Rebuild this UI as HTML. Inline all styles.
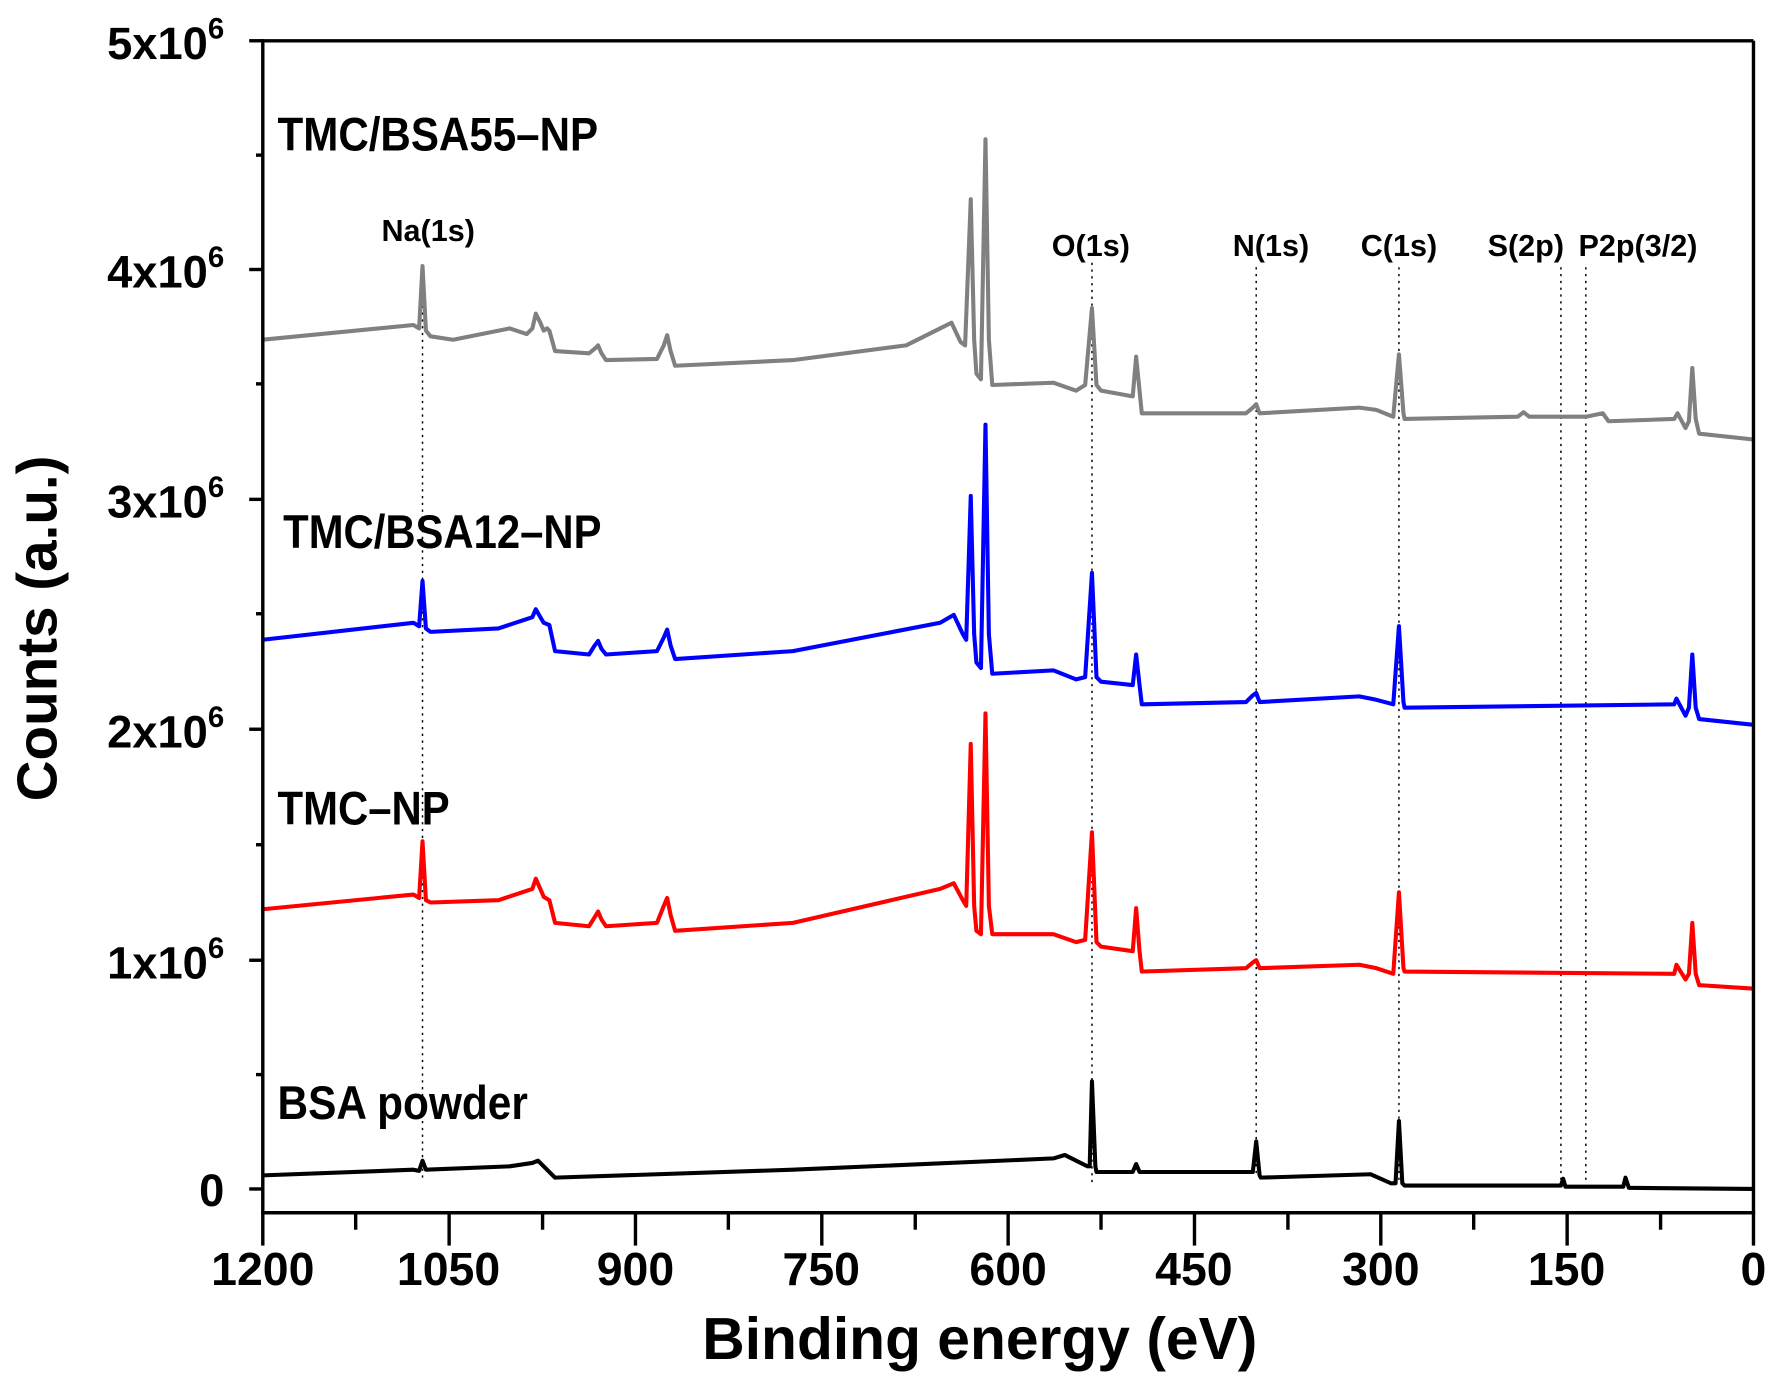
<!DOCTYPE html>
<html><head><meta charset="utf-8"><style>
html,body{margin:0;padding:0;background:#fff;}
svg{display:block}
text{font-family:"Liberation Sans",Arial,sans-serif;font-weight:bold;}
</style></head><body>
<svg width="1775" height="1386" viewBox="0 0 1567 1224" preserveAspectRatio="none" xmlns="http://www.w3.org/2000/svg">
<g stroke="#000" stroke-width="1.3" stroke-dasharray="2,4" fill="none">
<line x1="373" y1="240" x2="373" y2="1040"/>
<line x1="964" y1="232" x2="964" y2="1045"/>
<line x1="1109" y1="236" x2="1109" y2="1040"/>
<line x1="1235" y1="236" x2="1235" y2="1045"/>
<line x1="1378" y1="236" x2="1378" y2="1042"/>
<line x1="1400" y1="236" x2="1400" y2="1042"/>
</g>
<g fill="none" stroke-width="3.6" stroke-linejoin="round">
<polyline stroke="#808080" points="232,300 365,287 370,290 373,235 376,292 380,297 400,300 450,290 465,295 470,290 473,277 477,285 480,292 483,290 485,292 490,310 520,312 525,308 528,305 531,312 535,318 580,317 586,305 589,296 592,310 596,323 700,318 800,305 830,290 840,285 848,302 852,305 857,176 860,300 862,330 866,335 870,123 873,300 876,340 930,338 950,345 958,340 964,272 968,340 972,345 1000,350 1003,315 1006,345 1008,365 1100,365 1106,360 1109,357 1112,365 1200,360 1215,362 1230,368 1235,313 1239,365 1240,370 1340,368 1345,364 1350,368 1400,368 1415,365 1420,372 1478,370 1481,365 1488,378 1491,372 1494,325 1497,370 1500,383 1547,388"/>
<polyline stroke="#0000ff" points="232,565 365,550 370,553 373,513 376,555 380,558 440,555 470,545 473,538 477,545 480,550 485,552 490,575 520,578 525,570 528,566 531,573 535,578 580,575 586,563 589,556 592,570 596,582 700,575 830,550 842,543 850,560 853,565 857,438 860,560 862,585 866,590 870,375 873,560 876,595 930,592 950,600 958,598 964,506 968,598 972,602 1000,605 1003,578 1006,605 1008,622 1100,620 1106,614 1109,612 1112,620 1200,615 1215,618 1230,622 1235,553 1239,620 1240,625 1478,622 1480,617 1488,632 1491,625 1494,578 1497,625 1500,635 1547,640"/>
<polyline stroke="#ff0000" points="232,803 365,790 370,793 373,743 376,795 380,797 440,795 470,785 473,776 477,785 480,792 485,795 490,815 520,818 525,810 528,805 531,812 535,818 580,815 586,800 589,793 592,808 596,822 700,815 830,785 842,780 850,795 853,800 857,657 860,800 862,822 866,825 870,630 873,800 876,825 930,825 950,832 958,830 964,735 968,832 972,836 1000,840 1003,802 1006,840 1008,858 1100,855 1106,850 1109,848 1112,855 1200,852 1215,855 1230,860 1235,788 1239,855 1240,858 1478,860 1480,852 1488,865 1491,860 1494,815 1497,860 1500,870 1547,873"/>
<polyline stroke="#000" points="232,1038 365,1033 370,1034 373,1025 376,1033 450,1030 470,1027 475,1025 490,1040 700,1033 930,1023 940,1020 960,1030 962,1030 964,955 967,1030 968,1035 1000,1035 1003,1028 1006,1035 1100,1035 1106,1035 1109,1008 1112,1038 1113,1040 1210,1037 1228,1045 1232,1045 1235,990 1238,1045 1240,1047 1378,1047 1380,1041 1382,1048 1433,1048 1435,1040 1438,1049 1547,1050"/>
</g>
<g stroke="#000" stroke-width="3" fill="none">
<line x1="232" y1="36" x2="1548" y2="36"/>
<line x1="1548" y1="36" x2="1548" y2="1071"/>
<line x1="232" y1="34.5" x2="232" y2="1072.5"/>
<line x1="230.5" y1="1071" x2="1549.5" y2="1071"/>
<line x1="220" y1="36" x2="232" y2="36"/>
<line x1="220" y1="238" x2="232" y2="238"/>
<line x1="220" y1="441" x2="232" y2="441"/>
<line x1="220" y1="644" x2="232" y2="644"/>
<line x1="220" y1="848" x2="232" y2="848"/>
<line x1="220" y1="1050" x2="232" y2="1050"/>
<line x1="226" y1="137" x2="232" y2="137"/>
<line x1="226" y1="339" x2="232" y2="339"/>
<line x1="226" y1="542" x2="232" y2="542"/>
<line x1="226" y1="746" x2="232" y2="746"/>
<line x1="226" y1="949" x2="232" y2="949"/>
<line x1="232" y1="1071" x2="232" y2="1100"/>
<line x1="396.5" y1="1071" x2="396.5" y2="1100"/>
<line x1="561" y1="1071" x2="561" y2="1100"/>
<line x1="725.5" y1="1071" x2="725.5" y2="1100"/>
<line x1="890" y1="1071" x2="890" y2="1100"/>
<line x1="1054.5" y1="1071" x2="1054.5" y2="1100"/>
<line x1="1219" y1="1071" x2="1219" y2="1100"/>
<line x1="1383.5" y1="1071" x2="1383.5" y2="1100"/>
<line x1="1548" y1="1071" x2="1548" y2="1100"/>
<line x1="314" y1="1071" x2="314" y2="1086"/>
<line x1="479" y1="1071" x2="479" y2="1086"/>
<line x1="643" y1="1071" x2="643" y2="1086"/>
<line x1="808" y1="1071" x2="808" y2="1086"/>
<line x1="972" y1="1071" x2="972" y2="1086"/>
<line x1="1137" y1="1071" x2="1137" y2="1086"/>
<line x1="1301" y1="1071" x2="1301" y2="1086"/>
<line x1="1466" y1="1071" x2="1466" y2="1086"/>
</g>
<g font-size="40" text-anchor="end">
<text x="198" y="52">5x10<tspan font-size="26" dy="-18">6</tspan></text>
<text x="198" y="254">4x10<tspan font-size="26" dy="-18">6</tspan></text>
<text x="198" y="457">3x10<tspan font-size="26" dy="-18">6</tspan></text>
<text x="198" y="660">2x10<tspan font-size="26" dy="-18">6</tspan></text>
<text x="198" y="864">1x10<tspan font-size="26" dy="-18">6</tspan></text>
<text x="198" y="1065">0</text>
</g>
<g font-size="41" text-anchor="middle">
<text x="232" y="1135">1200</text>
<text x="396" y="1135">1050</text>
<text x="561" y="1135">900</text>
<text x="725" y="1135">750</text>
<text x="890" y="1135">600</text>
<text x="1054" y="1135">450</text>
<text x="1219" y="1135">300</text>
<text x="1383" y="1135">150</text>
<text x="1548" y="1135">0</text>
</g>
<text x="865" y="1200" font-size="52" text-anchor="middle" textLength="490" lengthAdjust="spacingAndGlyphs">Binding energy (eV)</text>
<text transform="translate(50,555) rotate(-90)" font-size="50" text-anchor="middle">Counts (a.u.)</text>
<g font-size="42">
<text x="245" y="133" textLength="283" lengthAdjust="spacingAndGlyphs">TMC/BSA55–NP</text>
<text x="250" y="484" textLength="281" lengthAdjust="spacingAndGlyphs">TMC/BSA12–NP</text>
<text x="245" y="728" textLength="152" lengthAdjust="spacingAndGlyphs">TMC–NP</text>
<text x="245" y="988" textLength="221" lengthAdjust="spacingAndGlyphs">BSA powder</text>
</g>
<g font-size="27" text-anchor="middle">
<text x="378" y="213">Na(1s)</text>
<text x="963" y="226">O(1s)</text>
<text x="1122" y="226">N(1s)</text>
<text x="1235" y="226">C(1s)</text>
<text x="1347" y="226">S(2p)</text>
<text x="1446" y="226">P2p(3/2)</text>
</g>
</svg>
</body></html>
